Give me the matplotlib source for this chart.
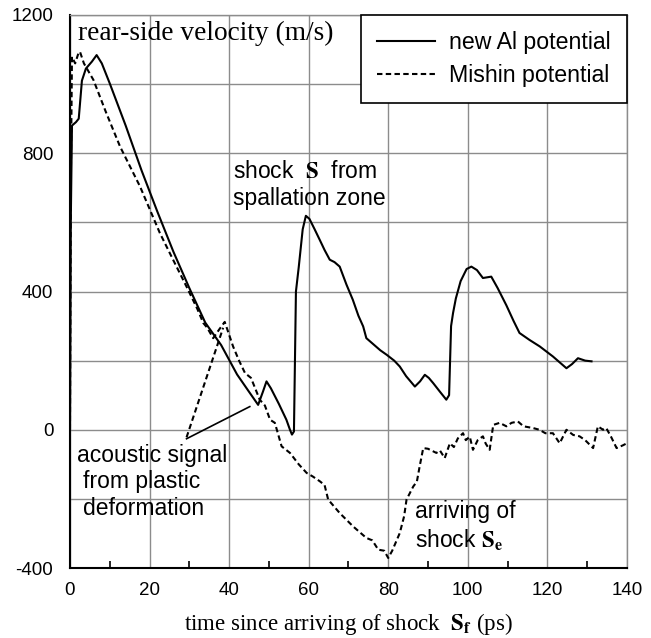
import matplotlib
matplotlib.use('Agg')
import matplotlib.pyplot as plt
from matplotlib.ticker import MultipleLocator

plt.rcParams['font.family'] = 'Liberation Sans'
plt.rcParams['mathtext.fontset'] = 'stix'

# new Al potential (solid)
al_t = [0.0, 0.2, 0.5, 1.5, 2.2, 3.0, 4.0, 5.5, 6.7, 8.0, 10, 14, 18, 22, 26, 30, 34, 38, 42, 45,
        47.3, 48.5, 49.4, 50.5, 52.5, 54.4, 55.3, 55.8, 56.3, 56.8, 57.5, 58.5, 59.3, 60.2, 61.5,
        62.8, 64.0, 65.3, 66.5, 67.8, 69.5, 71.1, 72.5, 73.7, 74.5, 76, 78, 79.6, 81.5, 82.9, 84.5,
        86.7, 88, 89.2, 90.2, 91.3, 93, 94.6, 95.3, 95.8, 96.3, 97, 98.2, 99.7, 100.9, 102.3, 103.8,
        105.9, 107.5, 109.7, 111.5, 113, 115.5, 118.1, 121.4, 124.8, 126.2, 127.7, 129.5, 131.1]
al_v = [0, 600, 880, 890, 900, 1010, 1045, 1065, 1084, 1060, 1002, 880, 750, 630, 515, 410, 310,
        245, 160, 110, 72, 110, 140, 120, 75, 29, 0, -14, -5, 400, 470, 580, 619, 610, 580,
        549, 520, 492, 485, 472, 420, 376, 330, 299, 265, 250, 230, 217, 200, 183, 155,
        125, 140, 159, 150, 135, 110, 87, 100, 300, 338, 380, 430, 465, 472, 462, 439,
        443, 410, 360, 315, 280, 260, 241, 212, 178, 190, 207, 200, 198]

# Mishin potential (dashed)
mi_t = [0, 0.2, 0.5, 1.3, 2.0, 2.5, 3.5, 5.9, 9, 12.6, 17.6, 22.6, 26, 29.3, 32, 33.5, 34.5, 36,
        37.5, 38.9, 40, 41, 42.5, 44, 45.5, 47.7, 49, 50.3, 51.5, 53.2, 55.3, 57.5, 59.5, 61, 62.8,
        64, 64.9, 67.8, 71.2, 74.5, 76, 77.5, 79, 80, 81, 82.9, 84, 84.6, 86.3, 87.2, 87.9, 88.8,
        90, 92.1, 93, 94.2, 95.5, 96.5, 97.5, 98.8, 99.5, 100.5, 101.3, 102.5, 103.8, 104.5, 105.5,
        106.4, 108, 109.7, 111, 112.6, 114, 116.4, 118, 119.5, 121.4, 123.1, 124.8, 126.5, 128.1,
        129.5, 131.5, 132.7, 134, 134.8, 136, 137.4, 139, 140]
mi_v = [0, 700, 1079, 1060, 1085, 1094, 1060, 1012, 920, 819, 704, 569, 490, 414, 350, 309, 295,
        265, 290, 312, 275, 241, 200, 164, 150, 87, 70, 29, 20, -48, -67, -100, -125, -135, -149,
        -160, -202, -241, -280, -313, -320, -347, -350, -371, -350, -299, -250, -202, -164, -150,
        -106, -53, -55, -67, -60, -82, -39, -50, -25, -10, -30, -20, -58, -30, -19, -40, -58,
        14, 20, 10, 20, 24, 10, 5, 0, -10, -10, -39, 0, -15, -19, -30, -53, 10, 0, 5, -20, -53,
        -45, -39]

x_ticks = [0, 20, 40, 60, 80, 100, 120, 140]
y_grid = [-400, -200, 0, 200, 400, 600, 800, 1000, 1200]
y_labels = ['-400', '', '0', '', '400', '', '800', '', '1200']

fig = plt.figure(figsize=(6.51, 6.38), dpi=100)
ax = fig.add_axes([0.1075, 0.1097, 0.8555, 0.8668])

dash = (0, (2.6, 1.6))
ax.plot(al_t, al_v, color='black', lw=1.5, label='new Al potential')
ax.plot(mi_t, mi_v, color='black', lw=1.5, ls=dash, label='Mishin potential')

# pointer lines for the acoustic signal note
ax.plot([29.3, 45.2], [-26, 67], color='black', lw=1.2)
ax.plot([29.3, 38.5], [-22, 295], color='black', lw=1.5, ls=dash)

ax.set_xlim(0, 140)
ax.set_ylim(-400, 1200)
ax.set_xticks(x_ticks)
ax.set_yticks(y_grid)
ax.set_yticklabels(y_labels)
ax.xaxis.set_minor_locator(MultipleLocator(10))
ax.tick_params(axis='both', which='major', length=0, labelsize=13.5)
ax.tick_params(axis='y', pad=12)
ax.tick_params(axis='x', pad=10)
ax.tick_params(axis='x', which='minor', direction='in', length=5, width=1.2, color='black')
ax.grid(True, color='#8c8c8c', lw=1)
ax.set_axisbelow(True)

for s in ['top', 'right']:
    ax.spines[s].set_color('#8c8c8c')
    ax.spines[s].set_linewidth(1)
for s in ['left', 'bottom']:
    ax.spines[s].set_color('black')
    ax.spines[s].set_linewidth(1.5)

ax.set_xlabel(r'time since arriving of shock  $\mathbf{S_f}$ (ps)', family='Liberation Serif',
              fontsize=16.5, labelpad=9)

ax.text(2.0, 1128, 'rear-side velocity (m/s)', family='Liberation Serif', fontsize=19.7, va='baseline')
ax.text(41, 729, r'shock  $\mathbf{S}$  from', fontsize=16.5, va='baseline')
ax.text(41, 651, 'spallation zone', fontsize=16.5, va='baseline')
ax.text(1.8, -92, 'acoustic signal', fontsize=16.5, va='baseline')
ax.text(3.3, -169, 'from plastic', fontsize=16.5, va='baseline')
ax.text(3.3, -246, 'deformation', fontsize=16.5, va='baseline')
ax.text(86.7, -255, 'arriving of', fontsize=16.5, va='baseline')
ax.text(86.7, -342, r'shock $\mathbf{S_e}$', fontsize=16.5, va='baseline')

leg = ax.legend(loc='upper right', borderaxespad=0, fancybox=False, edgecolor='black',
                framealpha=1, fontsize=16.7, handlelength=2.5, handletextpad=0.6,
                borderpad=0.7, labelspacing=0.42)
leg.get_frame().set_linewidth(1.2)

plt.savefig('out.png', dpi=100)
